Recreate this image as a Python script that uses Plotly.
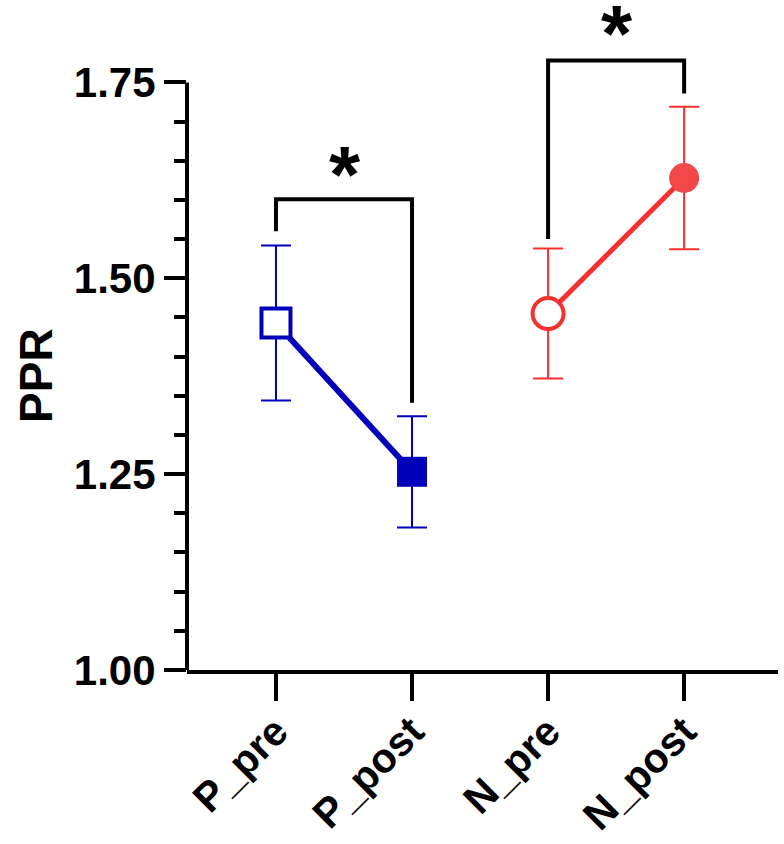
import plotly.graph_objects as go

categories = ["P_pre", "P_post", "N_pre", "N_post"]
p_means = [1.443, 1.253]
p_err = [0.099, 0.071]
n_means = [1.455, 1.628]
n_err = [0.083, 0.091]

# significance brackets: x positions (category index) and y values
p_bracket_x = [0, 0, 1, 1]
p_bracket_y = [1.560, 1.601, 1.601, 1.341]
n_bracket_x = [2, 2, 3, 3]
n_bracket_y = [1.550, 1.778, 1.778, 1.736]
star_labels = ["*", "*"]
star_x = [0.51, 2.51]
star_y = [1.650, 1.830]

yticks = [1.00, 1.25, 1.50, 1.75]
yminor = [1.05, 1.10, 1.15, 1.20, 1.30, 1.35, 1.40, 1.45, 1.55, 1.60, 1.65, 1.70]

BLUE = "#0000BB"
RED = "#F5302F"
RED_FILL = "#F24848"
FONT = "Liberation Sans, Arial, sans-serif"

fig = go.Figure()

# brackets
for bx, by in [(p_bracket_x, p_bracket_y), (n_bracket_x, n_bracket_y)]:
    fig.add_trace(go.Scatter(x=bx, y=by, mode="lines",
                             line=dict(color="black", width=4),
                             hoverinfo="skip", showlegend=False))

# P group
fig.add_trace(go.Scatter(
    x=[0, 1], y=p_means, mode="lines",
    line=dict(color=BLUE, width=6), showlegend=False))
fig.add_trace(go.Scatter(
    x=[0, 1], y=p_means, mode="markers",
    error_y=dict(type="data", array=p_err, color=BLUE, thickness=2, width=15),
    marker=dict(symbol="square", size=[29, 30], opacity=1,
                color=["white", BLUE], line=dict(color=BLUE, width=[4, 0])),
    showlegend=False))

# N group
fig.add_trace(go.Scatter(
    x=[2, 3], y=n_means, mode="lines",
    line=dict(color=RED, width=5), showlegend=False))
fig.add_trace(go.Scatter(
    x=[2, 3], y=n_means, mode="markers",
    error_y=dict(type="data", array=n_err, color=RED, thickness=2, width=15),
    marker=dict(symbol="circle", size=[31, 30], opacity=1,
                color=["white", RED_FILL], line=dict(color=[RED, RED_FILL], width=[4, 0])),
    showlegend=False))

# stars
for sx, sy, s in zip(star_x, star_y, star_labels):
    fig.add_annotation(x=sx, y=sy, text=s, showarrow=False,
                       font=dict(family=FONT, size=80, color="black", weight="bold"),
                       yanchor="middle", yshift=-14)

# y axis line only from 1.00 to 1.75
fig.add_shape(type="line", xref="paper", yref="y", x0=0, x1=0,
              y0=yticks[0], y1=yticks[-1], line=dict(color="black", width=4))

fig.add_annotation(xref="paper", yref="paper", x=-0.303, y=0.4456,
                   text="PPR", textangle=-90, showarrow=False,
                   font=dict(family=FONT, size=46, color="black", weight="bold"))

fig.update_layout(
    width=784, height=844,
    margin=dict(l=187, r=6, t=8, b=174),
    plot_bgcolor="white", paper_bgcolor="white",
    xaxis=dict(range=[-0.654, 3.69], tickvals=[0, 1, 2, 3], ticktext=categories,
               tickangle=-45, showgrid=False, zeroline=False, automargin=False,
               showline=True, linecolor="black", linewidth=4,
               ticks="outside", ticklen=27, tickwidth=4, tickcolor="black",
               ticklabelstandoff=-10,
               tickfont=dict(family=FONT, size=41, color="black", weight="bold")),
    yaxis=dict(range=[1.0, 1.845], tickvals=yticks, tickformat=".2f",
               showgrid=False, zeroline=False, showline=False, automargin=False,
               ticks="outside", ticklen=22, tickwidth=4, tickcolor="black",
               tickfont=dict(family=FONT, size=42, color="black", weight="bold"),
               minor=dict(tickmode="array", tickvals=yminor, ticks="outside",
                          ticklen=12, tickwidth=4, tickcolor="black", showgrid=False)),
)

fig.write_html("out.html")
